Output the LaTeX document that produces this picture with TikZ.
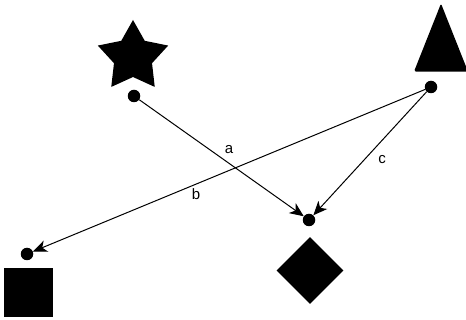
\documentclass[tikz,border=0pt]{standalone}
\usepackage{fontspec}
\setmainfont{Liberation Sans}
\usetikzlibrary{shapes.geometric, arrows.meta}

\tikzset{
    dot/.style={circle, fill=black, inner sep=0pt, minimum size=12.5pt},
    solid shape/.style={fill=black, inner sep=0pt},
    link/.style={-{Stealth[length=14pt, width=12pt, inset=4pt]}, line width=1pt},
    lbl/.style={font=\fontsize{15}{15}\selectfont, inner sep=0pt}
}

\begin{document}
\begin{tikzpicture}[x=1pt, y=-1pt]
    \useasboundingbox (0,0) rectangle (466,320);

    % figuras
    \node[solid shape, star, star points=5, star point ratio=1.85, minimum size=74pt] (star) at (133,57) {};
    \node[solid shape, isosceles triangle, isosceles triangle apex angle=42, isosceles triangle stretches,
          shape border rotate=90, minimum height=68pt, minimum width=54pt, rounded corners=2pt,
          anchor=apex] (tri) at (441,3) {};
    \node[solid shape, rectangle, minimum size=49pt] (sq) at (28.5,292.5) {};
    \node[solid shape, diamond, minimum size=67pt] (dia) at (310,270.5) {};

    % pontos
    \node[dot] (pstar) at (134,96) {};
    \node[dot] (ptri) at (431,87) {};
    \node[dot] (psq) at (27,254) {};
    \node[dot] (pdia) at (309,220) {};

    % ligacoes
    \draw[link] (pstar) -- (pdia);
    \draw[link] (ptri) -- (pdia);
    \draw[link] (ptri) -- (psq);

    % rotulos
    \node[lbl] (la) at (229,150) {a};
    \node[lbl] (lb) at (196,194) {b};
    \node[lbl] (lc) at (382,160) {c};
\end{tikzpicture}
\end{document}
